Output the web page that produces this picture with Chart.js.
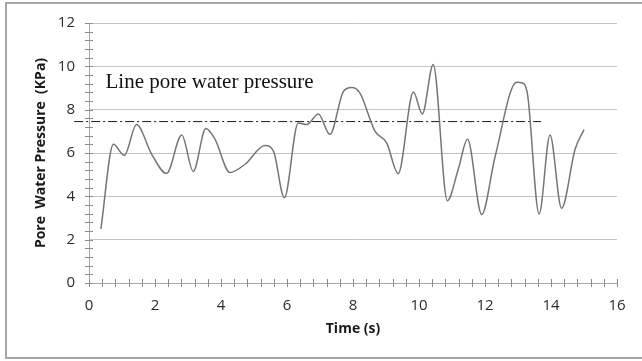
<!DOCTYPE html>
<html>
<head>
<meta charset="utf-8">
<script src="https://cdn.jsdelivr.net/npm/chart.js@4"></script>
<style>
  html, body { margin: 0; padding: 0; background: #fff; }
  #wrap { width: 642px; height: 361px; }
</style>
</head>
<body>
<div id="wrap"><canvas id="myChart" width="642" height="361"></canvas></div>
<script>
// pore water pressure readings
let times = [0.36, 0.74, 1.07, 1.44, 1.9, 2.35, 2.81, 3.16, 3.54, 3.82, 4.27, 4.73, 5.33, 5.59, 5.92,
    6.34, 6.6, 6.95, 7.3, 7.71, 7.96, 8.21, 8.67, 9.02, 9.37, 9.83, 10.1, 10.43, 10.86,
    11.19, 11.47, 11.9, 12.3, 12.96, 13.16, 13.29, 13.64, 13.97, 14.32, 14.73, 15.0];
let pressures = [2.5, 6.4, 5.89, 7.31, 5.94, 5.05, 6.83, 5.15, 7.13, 6.63, 5.1, 5.48, 6.35, 6.09, 3.93,
    7.39, 7.31, 7.8, 6.86, 8.84, 9.02, 8.76, 7.0, 6.47, 5.05, 8.81, 7.8, 10.09, 3.8,
    5.25, 6.63, 3.16, 5.79, 9.27, 9.22, 8.69, 3.19, 6.83, 3.45, 6.17, 7.08];

// dash-dot reference line
let lineTimes = [-0.45, 13.7];
let lineValues = [7.45, 7.45];
let lineLabel = 'Line pore water pressure';

let xTicks = { min: 0, max: 16, step: 2, minor: 0.4 };
let yTicks = { min: 0, max: 12, step: 2, minor: 0.4 };

function toPoints(xs, ys) {
    return xs.map((x, i) => ({ x: x, y: ys[i] }));
}

// frame around the picture + minor ticks crossing the axes + the text label
let decorations = {
    id: 'decorations',
    beforeDraw(chart) {
        let ctx = chart.ctx;
        ctx.save();
        ctx.strokeStyle = '#a6a6a6';
        ctx.lineWidth = 2;
        ctx.beginPath();
        ctx.moveTo(650, 3);
        ctx.lineTo(6, 3);
        ctx.lineTo(6, 358);
        ctx.lineTo(650, 358);
        ctx.stroke();
        ctx.restore();
    },
    afterDatasetsDraw(chart) {
        let ctx = chart.ctx;
        let xs = chart.scales.x, ys = chart.scales.y;
        let x0 = xs.getPixelForValue(0), y0 = ys.getPixelForValue(0);
        ctx.save();
        ctx.strokeStyle = '#8c8c8c';
        ctx.lineWidth = 1;
        ctx.beginPath();
        for (let i = 0; i <= Math.round((xTicks.max - xTicks.min) / xTicks.minor); i++) {
            let px = Math.round(xs.getPixelForValue(xTicks.min + i * xTicks.minor)) + 0.5;
            ctx.moveTo(px, y0 - 4);
            ctx.lineTo(px, y0 + 4);
        }
        for (let i = 0; i <= Math.round((yTicks.max - yTicks.min) / yTicks.minor); i++) {
            let py = Math.round(ys.getPixelForValue(yTicks.min + i * yTicks.minor)) + 0.5;
            ctx.moveTo(x0 - 4, py);
            ctx.lineTo(x0 + 4, py);
        }
        ctx.stroke();

        ctx.fillStyle = '#111';
        ctx.font = '21px "Liberation Serif"';
        ctx.textBaseline = 'alphabetic';
        ctx.fillText(lineLabel, xs.getPixelForValue(0.5), ys.getPixelForValue(9.0));
        ctx.restore();
    }
};

function loadChart() {
    let ctx = document.getElementById('myChart').getContext('2d');
    return new Chart(ctx, {
        type: 'scatter',
        data: {
            datasets: [{
                label: 'Pore water pressure',
                data: toPoints(times, pressures),
                showLine: true,
                borderColor: '#767676',
                borderWidth: 1.5,
                pointRadius: 0,
                cubicInterpolationMode: 'monotone',
                fill: false
            }, {
                label: lineLabel,
                data: toPoints(lineTimes, lineValues),
                showLine: true,
                borderColor: '#1a1a1a',
                borderWidth: 1,
                borderDash: [9, 3, 2, 3],
                pointRadius: 0,
                clip: false,
                fill: false
            }]
        },
        options: {
            responsive: false,
            animation: false,
            layout: { padding: { left: 33, top: 21, right: 25, bottom: 24 } },
            plugins: {
                legend: { display: false },
                tooltip: { enabled: false }
            },
            scales: {
                x: {
                    type: 'linear',
                    min: xTicks.min,
                    max: xTicks.max,
                    afterFit: s => { s.height = 54; },
                    ticks: {
                        stepSize: xTicks.step,
                        padding: 14,
                        color: '#2b2b2b',
                        font: { family: 'Open Sans', size: 15 }
                    },
                    grid: { display: false, drawTicks: false },
                    border: { display: true, color: '#a6a6a6', width: 1 },
                    title: {
                        display: true,
                        text: 'Time (s)',
                        color: '#1a1a1a',
                        font: { family: 'Open Sans', size: 14, weight: 'bold' },
                        padding: 0
                    }
                },
                y: {
                    min: yTicks.min,
                    max: yTicks.max,
                    afterFit: s => { s.width = 56; },
                    ticks: {
                        stepSize: yTicks.step,
                        padding: 14,
                        color: '#2b2b2b',
                        font: { family: 'Open Sans', size: 15 }
                    },
                    grid: { color: '#c4c4c4', lineWidth: 1, drawTicks: false },
                    border: { display: true, color: '#a6a6a6', width: 1 },
                    title: {
                        display: true,
                        text: 'Pore  Water Pressure  (KPa)',
                        color: '#1a1a1a',
                        font: { family: 'Open Sans', size: 14, weight: 'bold' },
                        padding: 0
                    }
                }
            }
        },
        plugins: [decorations]
    });
}

let chart = loadChart();
</script>
</body>
</html>
